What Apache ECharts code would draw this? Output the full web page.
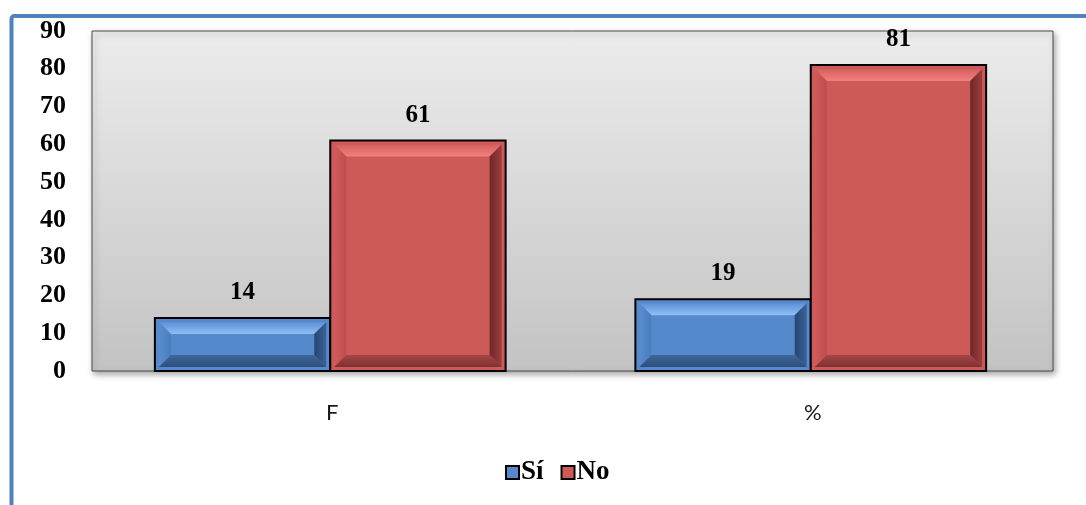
<!DOCTYPE html>
<html>
<head>
<meta charset="utf-8">
<script src="https://cdn.jsdelivr.net/npm/echarts@6/dist/echarts.min.js"></script>
<style>
  html, body { margin: 0; padding: 0; background: #ffffff; }
  #chart { width: 1086px; height: 505px; }
</style>
</head>
<body>
<div id="chart"></div>
<script>
// Categories and values
var categories = ['F', '%'];
var siValues = [14, 19];
var noValues = [61, 81];
var yTicks = [0, 10, 20, 30, 40, 50, 60, 70, 80, 90];

// Face / bevel shades for each series
var palette = {
  'Sí': {
    face: '#5688cc',
    top: ['#5d90d6', '#8fc0f6'],
    left: ['#5a8ccf', '#4a7cbd'],
    right: ['#3a6397', '#25456f'],
    bottom: ['#3e6699', '#2e4f7a']
  },
  'No': {
    face: '#cd5959',
    top: ['#d45f5f', '#f58080'],
    left: ['#d05b5b', '#bf4d4d'],
    right: ['#9c3d3d', '#6e2828'],
    bottom: ['#a44545', '#7e3232']
  }
};

var chart = echarts.init(document.getElementById('chart'), null, { renderer: 'canvas' });

function grad(horizontal, c) {
  return {
    type: 'linear', x: 0, y: 0, x2: horizontal ? 1 : 0, y2: horizontal ? 0 : 1,
    colorStops: [{ offset: 0, color: c[0] }, { offset: 1, color: c[1] }]
  };
}

// Bevelled bar drawn through the category/value scales
function bevelBar(seriesIdx, name) {
  return function (params, api) {
    var cat = api.value(0);
    var val = api.value(1);
    var base = api.coord([cat, 0]);
    var top = api.coord([cat, val]);
    var band = api.size([1, 0])[0];
    var w = band * 0.365;
    var x0 = (seriesIdx === 0 ? base[0] - w : base[0]) - 2;
    var x1 = x0 + w;
    var y0 = top[1];
    var y1 = base[1];
    var c = palette[name];
    var m = 4;                                   // face margin inside the outline
    var b = Math.min(12, (y1 - y0 - 2 * m) / 2); // bevel depth
    var ox0 = x0 + m, ox1 = x1 - m, oy0 = y0 + m, oy1 = y1 - m;
    var ix0 = ox0 + b, ix1 = ox1 - b, iy0 = oy0 + b, iy1 = oy1 - b;
    return {
      type: 'group',
      children: [
        { type: 'rect', shape: { x: x0, y: y0, width: w, height: y1 - y0 }, style: { fill: c.face } },
        { type: 'polygon', shape: { points: [[ox0, oy0], [ox1, oy0], [ix1, iy0], [ix0, iy0]] }, style: { fill: grad(false, c.top) } },
        { type: 'polygon', shape: { points: [[ox0, oy0], [ix0, iy0], [ix0, iy1], [ox0, oy1]] }, style: { fill: grad(true, c.left) } },
        { type: 'polygon', shape: { points: [[ox1, oy0], [ox1, oy1], [ix1, iy1], [ix1, iy0]] }, style: { fill: grad(true, c.right.slice().reverse()) } },
        { type: 'polygon', shape: { points: [[ox0, oy1], [ix0, iy1], [ix1, iy1], [ox1, oy1]] }, style: { fill: grad(false, c.bottom) } },
        { type: 'rect', shape: { x: x0, y: y0, width: w, height: y1 - y0 }, style: { fill: null, stroke: '#000', lineWidth: 2 } },
        {
          type: 'text',
          x: (x0 + x1) / 2, y: y0 - 13,
          style: {
            text: String(val), textAlign: 'center', textVerticalAlign: 'bottom',
            font: 'bold 25px "Liberation Serif", "Times New Roman", serif', fill: '#000'
          }
        }
      ]
    };
  };
}

function toData(arr) {
  return arr.map(function (v, i) { return [i, v]; });
}

chart.setOption({
  animation: false,
  backgroundColor: '#ffffff',
  graphic: [
    {
      type: 'rect', silent: true, z: 100,
      shape: { x: 11.5, y: 16, width: 1200, height: 700, r: 3 },
      style: { fill: null, stroke: '#4f81bd', lineWidth: 4 }
    }
  ],
  grid: {
    left: 92, top: 31, right: 33, bottom: 134,
    show: true,
    backgroundColor: {
      type: 'linear', x: 0, y: 0, x2: 0, y2: 1,
      colorStops: [{ offset: 0, color: '#ececec' }, { offset: 1, color: '#c3c3c3' }]
    },
    borderColor: '#4a4a4a', borderWidth: 1,
    shadowColor: 'rgba(0,0,0,0.35)', shadowBlur: 6, shadowOffsetX: 2, shadowOffsetY: 3
  },
  legend: {
    data: ['Sí', 'No'],
    left: 500, top: 454,
    itemWidth: 13, itemHeight: 13, itemGap: 17,
    icon: 'rect',
    textStyle: { fontFamily: '"Liberation Serif", "Times New Roman", serif', fontWeight: 'bold', fontSize: 27, color: '#000', padding: [0, 0, 0, -3] }
  },
  xAxis: {
    type: 'category',
    data: categories,
    axisLine: { show: false },
    axisTick: { show: false },
    axisLabel: { margin: 31, fontFamily: 'Lato, "Open Sans", sans-serif', fontSize: 22, color: '#1a1a1a' },
    splitLine: { show: false }
  },
  yAxis: {
    type: 'value',
    min: yTicks[0], max: yTicks[yTicks.length - 1], interval: yTicks[1] - yTicks[0],
    axisLine: { show: false },
    axisTick: { show: false },
    splitLine: { show: false },
    axisLabel: { margin: 26, fontFamily: '"Liberation Serif", "Times New Roman", serif', fontWeight: 'bold', fontSize: 26, color: '#000' }
  },
  series: [
    {
      name: 'Sí', type: 'custom', data: toData(siValues),
      encode: { x: 0, y: 1 },
      itemStyle: { color: '#5688cc', borderColor: '#000', borderWidth: 2 },
      renderItem: bevelBar(0, 'Sí')
    },
    {
      name: 'No', type: 'custom', data: toData(noValues),
      encode: { x: 0, y: 1 },
      itemStyle: { color: '#cd5959', borderColor: '#000', borderWidth: 2 },
      renderItem: bevelBar(1, 'No')
    }
  ]
});
</script>
</body>
</html>
